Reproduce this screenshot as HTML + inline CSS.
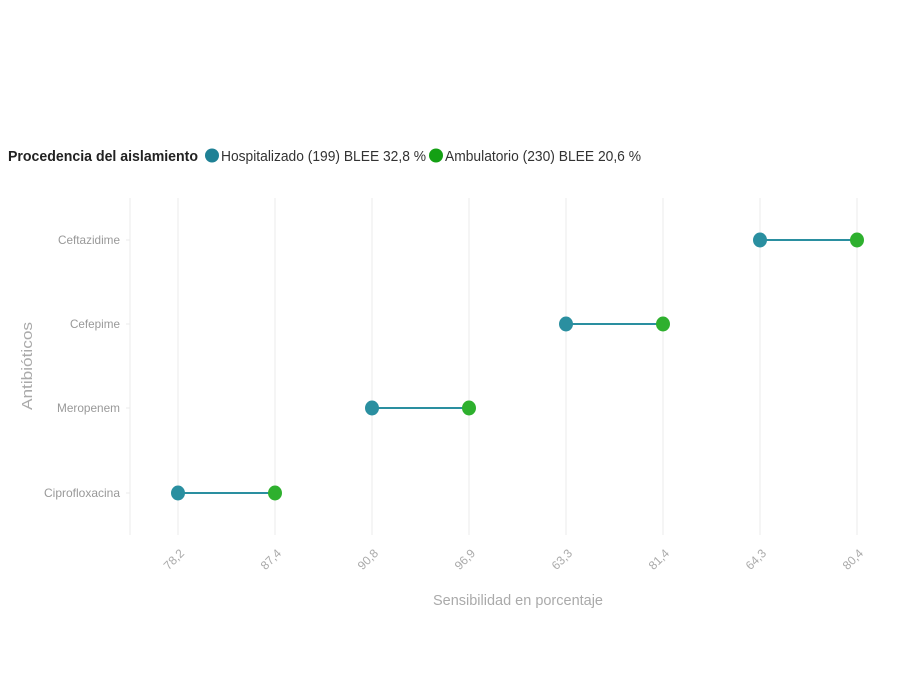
<!DOCTYPE html>
<html><head><meta charset="utf-8"><style>html,body{margin:0;padding:0;background:#fff}svg{display:block}</style></head>
<body>
<svg width="900" height="690" viewBox="0 0 900 690" xmlns="http://www.w3.org/2000/svg" font-family="Liberation Sans, sans-serif">
<text x="8" y="161" font-size="15" font-weight="bold" fill="#222" textLength="190" lengthAdjust="spacingAndGlyphs">Procedencia del aislamiento</text>
<circle cx="212" cy="155.5" r="7" fill="#1f8195"/>
<text x="221" y="161" font-size="15" fill="#333" textLength="205" lengthAdjust="spacingAndGlyphs">Hospitalizado (199) BLEE 32,8 %</text>
<circle cx="436" cy="155.5" r="7" fill="#14a014"/>
<text x="445" y="161" font-size="15" fill="#333" textLength="196" lengthAdjust="spacingAndGlyphs">Ambulatorio (230) BLEE 20,6 %</text>
<g stroke="#ebebeb" stroke-width="1">
<line x1="178" y1="198" x2="178" y2="535"/><line x1="275" y1="198" x2="275" y2="535"/>
<line x1="372" y1="198" x2="372" y2="535"/><line x1="469" y1="198" x2="469" y2="535"/>
<line x1="566" y1="198" x2="566" y2="535"/><line x1="663" y1="198" x2="663" y2="535"/>
<line x1="760" y1="198" x2="760" y2="535"/><line x1="857" y1="198" x2="857" y2="535"/>
<line x1="130" y1="198" x2="130" y2="535"/>
<line x1="126" y1="240" x2="130" y2="240"/><line x1="126" y1="324" x2="130" y2="324"/>
<line x1="126" y1="408" x2="130" y2="408"/><line x1="126" y1="493" x2="130" y2="493"/>
</g>
<g font-size="12" fill="#999" text-anchor="end">
<text x="120" y="244" textLength="62" lengthAdjust="spacingAndGlyphs">Ceftazidime</text>
<text x="120" y="328" textLength="50" lengthAdjust="spacingAndGlyphs">Cefepime</text>
<text x="120" y="412" textLength="63" lengthAdjust="spacingAndGlyphs">Meropenem</text>
<text x="120" y="497" textLength="76" lengthAdjust="spacingAndGlyphs">Ciprofloxacina</text>
</g>
<text transform="translate(32,366) rotate(-90)" font-size="15" fill="#aaa" text-anchor="middle" textLength="88" lengthAdjust="spacingAndGlyphs">Antibióticos</text>
<g font-size="12" fill="#aaa" text-anchor="end">
<text transform="translate(185,554) rotate(-45)">78,2</text>
<text transform="translate(282,554) rotate(-45)">87,4</text>
<text transform="translate(379,554) rotate(-45)">90,8</text>
<text transform="translate(476,554) rotate(-45)">96,9</text>
<text transform="translate(573,554) rotate(-45)">63,3</text>
<text transform="translate(670,554) rotate(-45)">81,4</text>
<text transform="translate(767,554) rotate(-45)">64,3</text>
<text transform="translate(864,554) rotate(-45)">80,4</text>
</g>
<text x="518" y="605" font-size="15" fill="#aaa" text-anchor="middle" textLength="170" lengthAdjust="spacingAndGlyphs">Sensibilidad en porcentaje</text>
<g stroke="#2a8fa0" stroke-width="2">
<line x1="760" y1="240" x2="857" y2="240"/><line x1="566" y1="324" x2="663" y2="324"/>
<line x1="372" y1="408" x2="469" y2="408"/><line x1="178" y1="493" x2="275" y2="493"/>
</g>
<g fill="#2a8fa0">
<ellipse cx="760" cy="240" rx="7" ry="7.5"/><ellipse cx="566" cy="324" rx="7" ry="7.5"/>
<ellipse cx="372" cy="408" rx="7" ry="7.5"/><ellipse cx="178" cy="493" rx="7" ry="7.5"/>
</g>
<g fill="#2eb02e">
<ellipse cx="857" cy="240" rx="7" ry="7.5"/><ellipse cx="663" cy="324" rx="7" ry="7.5"/>
<ellipse cx="469" cy="408" rx="7" ry="7.5"/><ellipse cx="275" cy="493" rx="7" ry="7.5"/>
</g>
</svg>
</body></html>
